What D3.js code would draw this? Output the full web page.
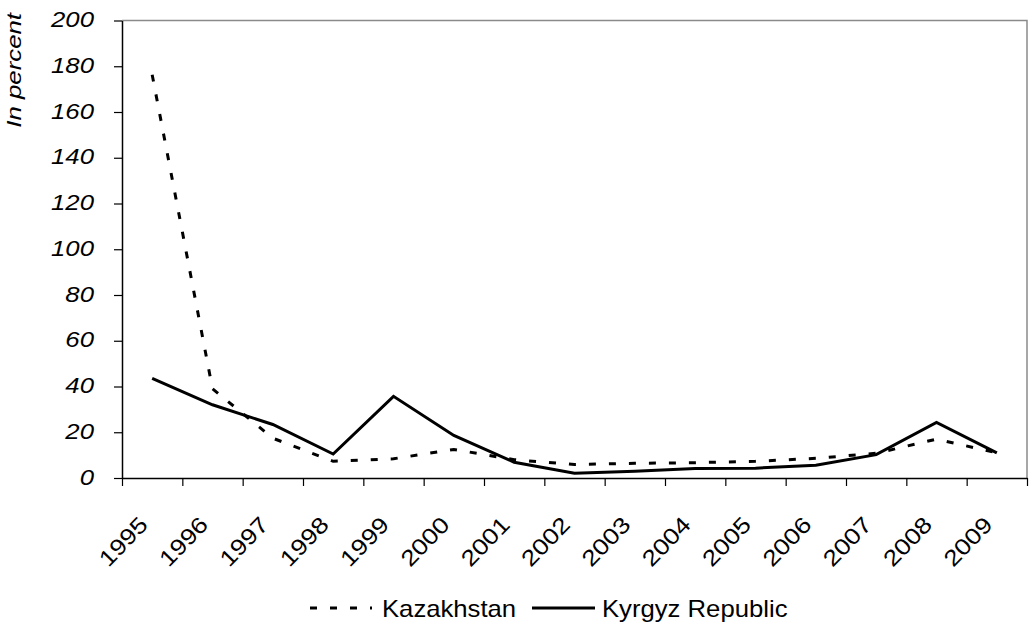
<!DOCTYPE html>
<html>
<head>
<meta charset="utf-8">
<script src="https://cdn.jsdelivr.net/npm/d3@7"></script>
<style>
  html, body { margin: 0; padding: 0; background: #fff; }
  svg { display: block; }
  text { font-family: "Liberation Sans", Arial, sans-serif; fill: #000; }
  .ytick text, .ytitle { font-style: italic; }
</style>
</head>
<body>
<svg id="chart" width="1029" height="629"></svg>
<script>
// Annual inflation, in percent
const years = [1995, 1996, 1997, 1998, 1999, 2000, 2001, 2002, 2003, 2004, 2005, 2006, 2007, 2008, 2009];
const kazakhstan = [176.3, 39, 17.4, 7.3, 8.4, 12.5, 8, 5.9, 6.4, 6.7, 7.3, 8.6, 10.8, 17, 11];
const kyrgyz = [43.5, 32, 23.4, 10.5, 35.7, 18.6, 6.9, 2.1, 3.0, 4.1, 4.3, 5.6, 10.2, 24.3, 11];
const yTicks = [0, 20, 40, 60, 80, 100, 120, 140, 160, 180, 200];
const seriesNames = ["Kazakhstan", "Kyrgyz Republic"];

const svg = d3.select("#chart");
const plotLeft = 122, plotRight = 1027, plotTop = 20.5, plotBottom = 478;

// category boundaries on a linear scale, points sit at the middle of each slot
const xb = d3.scaleLinear().domain([0, years.length]).range([plotLeft, plotRight]);
const y = d3.scaleLinear().domain([0, 200]).range([plotBottom, plotTop]);
const xc = i => xb(i + 0.5);

// plot area frame (top and right edges)
svg.append("path")
  .attr("d", `M${plotLeft},${plotTop}H${plotRight}V${plotBottom}`)
  .attr("fill", "none").attr("stroke", "#8a8a8a").attr("stroke-width", 1.5);

// y axis
const yAxis = svg.append("g")
  .attr("class", "ytick")
  .attr("transform", `translate(${plotLeft},0)`)
  .call(d3.axisLeft(y).tickValues(yTicks).tickSize(8).tickSizeOuter(0).tickPadding(0));
yAxis.attr("font-family", null);
yAxis.select(".domain").attr("stroke", "#000").attr("stroke-width", 1.5);
yAxis.selectAll(".tick line").attr("stroke", "#000").attr("stroke-width", 1.2);
yAxis.selectAll(".tick text")
  .attr("x", null).attr("dy", null)
  .attr("font-size", 22)
  .style("font-style", "italic")
  .attr("text-anchor", "end")
  .attr("transform", "translate(-28,6) scale(1.17,1)");

// x axis with ticks at category boundaries
const xAxis = svg.append("g")
  .attr("transform", `translate(0,${plotBottom})`)
  .call(d3.axisBottom(xb).tickValues(d3.range(years.length + 1)).tickFormat("").tickSize(8).tickSizeOuter(0));
xAxis.select(".domain").attr("stroke", "#000").attr("stroke-width", 1.5);
xAxis.selectAll(".tick line").attr("stroke", "#000").attr("stroke-width", 1.2);

// rotated year labels
svg.append("g").selectAll("text")
  .data(years)
  .join("text")
  .attr("font-size", 22.5)
  .attr("text-anchor", "end")
  .attr("transform", (d, i) => `translate(${xc(i) - 3},${plotBottom + 48}) rotate(-46) scale(1.17,1)`)
  .text(d => d);

// y axis title
svg.append("text")
  .attr("class", "ytitle")
  .attr("font-size", 20)
  .attr("text-anchor", "end")
  .attr("transform", `translate(21,13) rotate(-90) scale(1.29,1)`)
  .text("In percent");

// series lines
const line = d3.line().x((d, i) => xc(i)).y(d => y(d));
svg.append("path")
  .datum(kazakhstan)
  .attr("d", line)
  .attr("fill", "none").attr("stroke", "#000").attr("stroke-width", 3)
  .attr("stroke-dasharray", "7,13");
svg.append("path")
  .datum(kyrgyz)
  .attr("d", line)
  .attr("fill", "none").attr("stroke", "#000").attr("stroke-width", 3)
  .attr("stroke-linejoin", "miter");

// legend
const legendItems = [
  { name: seriesNames[0], x0: 310, x1: 372, tx: 382, dash: "7,13" },
  { name: seriesNames[1], x0: 532, x1: 595, tx: 602, dash: null }
];
const lg = svg.append("g");
legendItems.forEach(it => {
  lg.append("line")
    .attr("x1", it.x0).attr("x2", it.x1).attr("y1", 608).attr("y2", 608)
    .attr("stroke", "#000").attr("stroke-width", 3)
    .attr("stroke-dasharray", it.dash);
  lg.append("text")
    .attr("font-size", 24)
    .attr("transform", `translate(${it.tx},617) scale(1.07,1)`)
    .text(it.name);
});
</script>
</body>
</html>
